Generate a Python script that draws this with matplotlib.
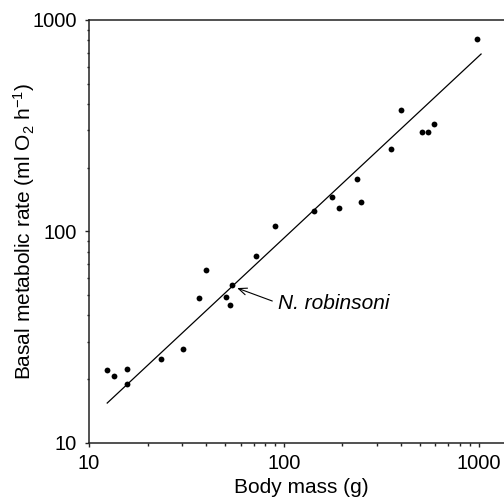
import matplotlib
matplotlib.use("Agg")
import matplotlib.pyplot as plt
from matplotlib.ticker import LogLocator, NullFormatter, FixedLocator, FixedFormatter

plt.rcParams["font.family"] = ["Liberation Sans", "DejaVu Sans"]
plt.rcParams["mathtext.fontset"] = "custom"
plt.rcParams["mathtext.rm"] = "Liberation Sans"
plt.rcParams["mathtext.it"] = "Liberation Sans:italic"

# body mass (g) and basal metabolic rate (ml O2 per h) per species
body_mass = [12.3, 13.4, 15.7, 15.7, 23.3, 30.4, 36.9, 40.1, 50.8, 52.7, 54.2, 72.2,
             90.1, 143.6, 176.2, 191.5, 237.9, 250.0, 357.0, 398.8, 511.0, 553.0,
             589.5, 984.6]
bmr = [22.1, 20.7, 22.3, 18.9, 24.9, 27.7, 48.4, 65.9, 48.9, 44.8, 55.9, 76.4,
       106.0, 125.3, 145.4, 128.5, 177.0, 137.7, 246.0, 373.9, 295.0, 295.0,
       322.0, 815.6]

# allometric fit, end points
fit_mass = [12.4, 1030.0]
fit_bmr = [15.4, 690.0]

# highlighted species
label_name = "N. robinsoni"
label_point = (57.6, 53.9)

fig = plt.figure(figsize=(5.04, 4.97), dpi=100)
ax = fig.add_axes([0.1766, 0.1093, 0.841, 0.8505])

ax.set_xscale("log")
ax.set_yscale("log")
ax.set_xlim(10, 1500)
ax.set_ylim(10, 1000)

ax.plot(fit_mass, fit_bmr, color="black", lw=0.9)
ax.plot(body_mass, bmr, "o", color="black", ms=4.2, mec="none")

ax.annotate("", xy=label_point, xytext=(87.3, 46.8),
            arrowprops=dict(arrowstyle="->,head_length=0.6,head_width=0.25",
                            lw=0.8, color="black", shrinkA=0, shrinkB=0))
ax.text(93.8, 45.8, label_name, style="italic", fontsize=15,
        ha="left", va="center")

ax.spines["right"].set_visible(False)
for side in ("left", "bottom", "top"):
    ax.spines[side].set_linewidth(1.1)
    ax.spines[side].set_color("#222222")

ax.xaxis.set_major_locator(FixedLocator([10, 100, 1000]))
ax.xaxis.set_major_formatter(FixedFormatter(["10", "100", "1000"]))
ax.yaxis.set_major_locator(FixedLocator([10, 100, 1000]))
ax.yaxis.set_major_formatter(FixedFormatter(["10", "100", "1000"]))
ax.xaxis.set_minor_locator(LogLocator(base=10, subs=range(2, 10), numticks=20))
ax.yaxis.set_minor_locator(LogLocator(base=10, subs=range(2, 10), numticks=20))
ax.xaxis.set_minor_formatter(NullFormatter())
ax.yaxis.set_minor_formatter(NullFormatter())

ax.tick_params(which="both", direction="out", top=False, right=False,
               width=1.0, color="#222222")
ax.tick_params(which="major", length=3, labelsize=14.5, pad=5.5)
ax.tick_params(which="minor", length=1.8)
ax.tick_params(axis="y", which="major", pad=5.5)

ax.set_xlabel("Body mass (g)", fontsize=15, labelpad=3)
ax.set_ylabel(r"Basal metabolic rate (ml O$_2$ h$^{-1}$)", fontsize=15, labelpad=-3)

fig.savefig("out.png", dpi=100)
